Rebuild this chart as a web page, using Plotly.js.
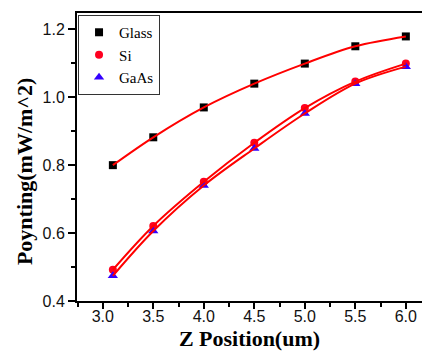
<!DOCTYPE html>
<html>
<head>
<meta charset="utf-8">
<script src="https://cdn.plot.ly/plotly-3.0.1.min.js"></script>
<style>html,body{margin:0;padding:0;background:#fff;}#chart{width:422px;height:351px;}</style>
</head>
<body>
<div id="chart"></div>
<script>
var zPos = [3.1, 3.5, 4.0, 4.5, 5.0, 5.5, 6.0];
var glass = [0.80, 0.882, 0.970, 1.040, 1.099, 1.150, 1.179];
var si    = [0.492, 0.621, 0.751, 0.866, 0.968, 1.046, 1.099];
var gaas  = [0.474, 0.606, 0.740, 0.849, 0.952, 1.040, 1.090];
var seriesNames = ["Glass", "Si", "GaAs"];
var xTicks = [3.0, 3.5, 4.0, 4.5, 5.0, 5.5, 6.0];
var xTickText = ["3.0", "3.5", "4.0", "4.5", "5.0", "5.5", "6.0"];
var yTicks = [0.4, 0.6, 0.8, 1.0, 1.2];
var yTickText = ["0.4", "0.6", "0.8", "1.0", "1.2"];

var markerStyles = [
  {symbol: "square", color: "#000000", size: 8},
  {symbol: "circle", color: "#ff0020", size: 8},
  {symbol: "triangle-up", color: "#3300ff", size: 9}
];
var data = [];
[glass, si, gaas].forEach(function (vals, i) {
  data.push({
    x: zPos, y: vals, type: "scatter", mode: "markers", name: seriesNames[i],
    marker: {symbol: markerStyles[i].symbol, color: markerStyles[i].color, size: markerStyles[i].size, line: {width: 0}}
  });
});
[glass, si, gaas].forEach(function (vals) {
  data.push({
    x: zPos, y: vals, type: "scatter", mode: "lines", showlegend: false, hoverinfo: "skip",
    line: {color: "#ff0000", width: 2, shape: "spline", smoothing: 1}
  });
});

var layout = {
  width: 422, height: 351,
  margin: {l: 77, r: 0, t: 13, b: 50},
  paper_bgcolor: "#ffffff", plot_bgcolor: "#ffffff",
  showlegend: true,
  legend: {
    x: 0.003, y: 0.993, xanchor: "left", yanchor: "top",
    bgcolor: "#ffffff", bordercolor: "#333333", borderwidth: 1,
    font: {family: "Liberation Serif, Times New Roman, serif", size: 15, color: "#000"},
    tracegroupgap: 0, itemwidth: 30
  },
  xaxis: {
    range: [2.745, 6.16], tickvals: xTicks, ticktext: xTickText,
    showgrid: false, zeroline: false, showline: true, linecolor: "#000", linewidth: 2,
    mirror: true, ticks: "outside", ticklen: 6, tickwidth: 2, tickcolor: "#000",
    ticklabelstandoff: -6,
    minor: {dtick: 0.25, ticks: "outside", ticklen: 4, tickwidth: 2, tickcolor: "#000", showgrid: false},
    tickfont: {family: "Liberation Sans, Arial, sans-serif", size: 16, color: "#111"},
    title: {text: "<b>Z Position(um)</b>", standoff: 10,
      font: {family: "Liberation Serif, Times New Roman, serif", size: 22, color: "#000"}}
  },
  yaxis: {
    range: [0.4, 1.248], tickvals: yTicks, ticktext: yTickText,
    showgrid: false, zeroline: false, showline: true, linecolor: "#000", linewidth: 2,
    mirror: false, ticks: "outside", ticklen: 7, tickwidth: 2, tickcolor: "#000",
    minor: {dtick: 0.1, ticks: "outside", ticklen: 4, tickwidth: 2, tickcolor: "#000", showgrid: false},
    tickfont: {family: "Liberation Sans, Arial, sans-serif", size: 16, color: "#111"}
  },
  annotations: [{
    text: "<b>Poynting(mW/m^2)</b>", textangle: -90, showarrow: false,
    xref: "paper", yref: "paper", x: -0.1536, y: 0.451, xanchor: "center", yanchor: "middle",
    font: {family: "Liberation Serif, Times New Roman, serif", size: 22, color: "#000"}
  }]
};
Plotly.newPlot("chart", data, layout, {displayModeBar: false, staticPlot: true});
</script>
</body>
</html>
